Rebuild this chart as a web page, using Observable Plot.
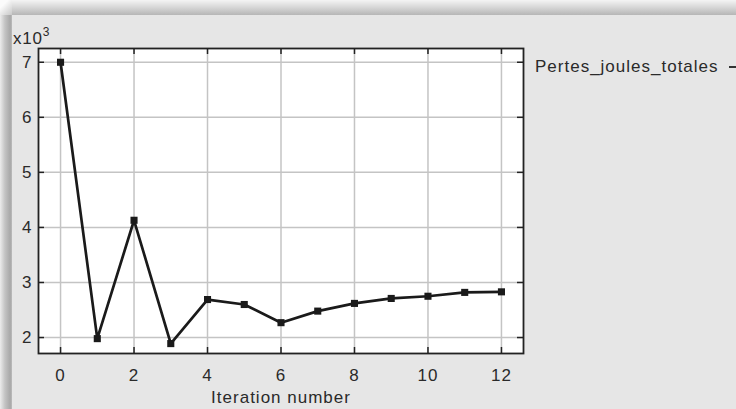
<!DOCTYPE html>
<html>
<head>
<meta charset="utf-8">
<script src="https://cdn.jsdelivr.net/npm/d3@7"></script>
<script src="https://cdn.jsdelivr.net/npm/@observablehq/plot@0.6"></script>
<style>
  html, body { margin: 0; padding: 0; background: #ffffff; }
  #wrap { position: relative; width: 736px; height: 409px; overflow: hidden; background: #e6e6e6;
          font-family: "Liberation Sans", Arial, sans-serif; color: #2a2a2a; }
  #topshade { position: absolute; left: 0; top: 0; width: 736px; height: 15px;
              background: linear-gradient(to bottom, #f4f4f4 0%, #d6d6d6 50%, #b6b6b6 100%); }
  #leftshade { position: absolute; left: 0; top: 0; width: 12px; height: 409px;
               background: linear-gradient(to right, #ececec 0%, #c4c4c4 40%, #a8a8a8 85%, #bcbcbc 100%); }
  #corner { position: absolute; left: 0; top: 0; width: 12px; height: 15px; background: linear-gradient(135deg, #fbfbfb 30%, #c8c8c8 100%); }
  #chart { position: absolute; left: 0; top: 0; }
  #mult { position: absolute; left: 13px; top: 26px; font-size: 17px; letter-spacing: 0.8px; color: #2a2a2a; }
  #mult sup { font-size: 12px; position: relative; top: -1px; }
  #legend { position: absolute; left: 535px; top: 57px; font-size: 17px; letter-spacing: 1px; color: #2a2a2a; white-space: nowrap; }
  #legline { position: absolute; left: 729px; top: 66px; width: 7px; height: 2px; background: #333; }
</style>
</head>
<body>
<div id="wrap">
  <div id="topshade"></div>
  <div id="leftshade"></div>
  <div id="corner"></div>
  <div id="chart"></div>
  <div id="mult">x10<sup>3</sup></div>
  <div id="legend">Pertes_joules_totales</div>
  <div id="legline"></div>
</div>
<script>
// Data (values in thousands, ×10^3)
const iterations = [0, 1, 2, 3, 4, 5, 6, 7, 8, 9, 10, 11, 12];
const pertesJoulesTotales = [7.0, 1.98, 4.13, 1.89, 2.69, 2.60, 2.27, 2.48, 2.62, 2.71, 2.75, 2.82, 2.83];
const xTicks = [0, 2, 4, 6, 8, 10, 12];
const yTicks = [2, 3, 4, 5, 6, 7];
const seriesName = "Pertes_joules_totales";
const xLabel = "Iteration number";

const data = iterations.map((it, i) => ({ it, v: pertesJoulesTotales[i] }));

const W = 736, H = 409;
const mL = 38, mR = 213, mT = 48, mB = 56;
const fw = W - mL - mR, fh = H - mT - mB;
const tl = 6;

const chart = Plot.plot({
  width: W,
  height: H,
  marginLeft: mL,
  marginRight: mR,
  marginTop: mT,
  marginBottom: mB,
  style: { background: "transparent", fontSize: "17px", fontFamily: "'Liberation Sans', Arial, sans-serif", color: "#2a2a2a", letterSpacing: "1px" },
  x: { domain: [-0.6, 12.6] },
  y: { domain: [1.71, 7.25] },
  marks: [
    Plot.frame({ fill: "white" }),
    Plot.gridX(xTicks, { stroke: "#c4c4c4", strokeOpacity: 1, strokeWidth: 1.5 }),
    Plot.gridY(yTicks, { stroke: "#c4c4c4", strokeOpacity: 1, strokeWidth: 1.5 }),
    Plot.tickX(xTicks, { x: d => d, insetTop: fh - tl, stroke: "#222", strokeWidth: 1.5 }),
    Plot.tickX(xTicks, { x: d => d, insetBottom: fh - tl, stroke: "#222", strokeWidth: 1.5 }),
    Plot.tickY(yTicks, { y: d => d, insetRight: fw - tl, stroke: "#222", strokeWidth: 1.5 }),
    Plot.tickY(yTicks, { y: d => d, insetLeft: fw - tl, stroke: "#222", strokeWidth: 1.5 }),
    Plot.line(data, { x: "it", y: "v", stroke: "#1a1a1a", strokeWidth: 2.7 }),
    Plot.dot(data, { x: "it", y: "v", symbol: "square", r: 4, fill: "#1a1a1a", stroke: "none" }),
    Plot.frame({ stroke: "#222", strokeWidth: 1.8 }),
    Plot.axisX(xTicks, { tickSize: 0, tickPadding: 15, label: null, fill: "#2a2a2a", tickFormat: d3.format("d") }),
    Plot.axisY(yTicks, { tickSize: 0, tickPadding: 6, label: null, fill: "#2a2a2a", tickFormat: d3.format("d") }),
    Plot.text([xLabel], { text: d => d, frameAnchor: "bottom", dy: 49, fill: "#2a2a2a" })
  ]
});
document.getElementById("chart").appendChild(chart);
document.getElementById("legend").textContent = seriesName;
</script>
</body>
</html>
